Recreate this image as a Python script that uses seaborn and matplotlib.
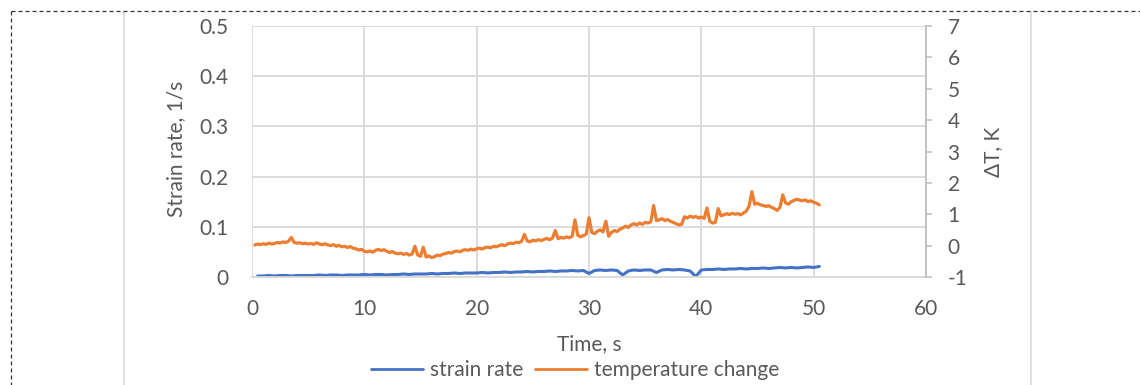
import numpy as np
import pandas as pd
import matplotlib
matplotlib.use("Agg")
import matplotlib.pyplot as plt
from matplotlib.lines import Line2D
import seaborn as sns

# ---------------- data ----------------
x_ticks = [0, 10, 20, 30, 40, 50, 60]
left_ticks = [0, 0.1, 0.2, 0.3, 0.4, 0.5]
left_tick_labels = ["0", "0.1", "0.2", "0.3", "0.4", "0.5"]
right_ticks = [-1, 0, 1, 2, 3, 4, 5, 6, 7]
right_tick_labels = ["-1", "0", "1", "2", "3", "4", "5", "6", "7"]

# temperature change, sampled every 0.25 s from 0.25 s to 50.5 s
temp_step = 0.25
temp_change = [
    0.02, 0.05, 0.03, 0.06,
    0.04, 0.08, 0.05, 0.07,
    0.10, 0.08, 0.12, 0.10,
    0.14, 0.26, 0.10, 0.08,
    0.09, 0.06, 0.08, 0.05,
    0.07, 0.04, 0.09, 0.05,
    0.03, 0.06, 0.02, 0.00,
    0.03, -0.02, 0.01, -0.04,
    -0.02, -0.06, -0.03, -0.08,
    -0.10, -0.14, -0.12, -0.18,
    -0.20, -0.17, -0.21, -0.15,
    -0.12, -0.16, -0.13, -0.18,
    -0.22, -0.19, -0.24, -0.26,
    -0.24, -0.28, -0.25, -0.30,
    -0.27, -0.02, -0.30, -0.34,
    -0.05, -0.36, -0.33, -0.38,
    -0.35, -0.30, -0.32, -0.27,
    -0.25, -0.22, -0.24, -0.19,
    -0.17, -0.20, -0.15, -0.13,
    -0.15, -0.11, -0.14, -0.10,
    -0.08, -0.11, -0.06, -0.05,
    -0.07, -0.02, -0.04, 0.00,
    0.03, 0.00, 0.05, 0.08,
    0.06, 0.11, 0.09, 0.14,
    0.36, 0.15, 0.12, 0.17,
    0.15, 0.19, 0.16, 0.20,
    0.23, 0.19, 0.24, 0.48,
    0.22, 0.26, 0.24, 0.28,
    0.25, 0.30, 0.82, 0.33,
    0.28, 0.32, 0.36, 0.89,
    0.42, 0.38, 0.46, 0.50,
    0.44, 0.78, 0.30, 0.42,
    0.48, 0.45, 0.52, 0.56,
    0.62, 0.58, 0.66, 0.70,
    0.66, 0.72, 0.68, 0.74,
    0.72, 0.76, 1.28, 0.80,
    0.82, 0.86, 0.80, 0.83,
    0.78, 0.74, 0.70, 0.66,
    0.68, 0.92, 0.88, 0.94,
    0.90, 0.93, 0.88, 0.91,
    0.87, 1.20, 0.78, 0.72,
    0.74, 1.18, 0.95, 0.98,
    1.02, 0.99, 1.03, 1.00,
    1.02, 0.98, 1.04, 1.10,
    1.26, 1.72, 1.32, 1.35,
    1.30, 1.28, 1.25, 1.27,
    1.22, 1.18, 1.12, 1.22,
    1.62, 1.36, 1.32, 1.40,
    1.44, 1.48, 1.45, 1.43,
    1.46, 1.40, 1.43, 1.38,
    1.35, 1.30,
]

# strain rate, sampled every 0.5 s from 0.5 s to 50.5 s
strain_step = 0.5
strain_rate = [
    0.002, 0.002, 0.003, 0.002, 0.003, 0.003, 0.002, 0.003, 0.003, 0.003,
    0.003, 0.004, 0.003, 0.004, 0.004, 0.003, 0.004, 0.004, 0.004, 0.005,
    0.004, 0.005, 0.005, 0.004, 0.005, 0.005, 0.006, 0.005, 0.006, 0.006,
    0.006, 0.007, 0.006, 0.007, 0.007, 0.008, 0.007, 0.008, 0.008, 0.008,
    0.009, 0.008, 0.009, 0.009, 0.010, 0.009, 0.010, 0.010, 0.011, 0.010,
    0.011, 0.011, 0.012, 0.011, 0.012, 0.012, 0.013, 0.012, 0.013, 0.007,
    0.013, 0.014, 0.013, 0.014, 0.013, 0.004, 0.012, 0.014, 0.013, 0.014,
    0.014, 0.009, 0.014, 0.015, 0.014, 0.015, 0.014, 0.012, 0.001, 0.014,
    0.015, 0.015, 0.016, 0.015, 0.016, 0.016, 0.017, 0.016, 0.017, 0.017,
    0.018, 0.017, 0.018, 0.019, 0.018, 0.019, 0.018, 0.019, 0.020, 0.019,
    0.021,
]

temp_time = [temp_step * (i + 1) for i in range(len(temp_change))]
strain_time = [strain_step * (i + 1) for i in range(len(strain_rate))]

df_temp = pd.DataFrame({"time": temp_time, "dT": temp_change})
df_strain = pd.DataFrame({"time": strain_time, "rate": strain_rate})

# ---------------- style ----------------
sns.set_theme(style="white")
plt.rcParams["font.family"] = ["Lato", "DejaVu Sans"]

TEXT = "#595959"
GRID = "#d9d9d9"
BLUE = "#4472C4"
ORANGE = "#ED7D31"
FS = 15

W, H = 1140, 385
fig = plt.figure(figsize=(W / 100, H / 100), dpi=100)
L, R, T, B = 252, 926, 26, 277
ax = fig.add_axes([L / W, 1 - B / H, (R - L) / W, (B - T) / H])
ax2 = ax.twinx()

sns.lineplot(data=df_strain, x="time", y="rate", ax=ax, color=BLUE,
             linewidth=2.2, label="strain rate", legend=False)
sns.lineplot(data=df_temp, x="time", y="dT", ax=ax2, color=ORANGE,
             linewidth=2.3, label="temperature change", legend=False)

ax.set_xlim(0, 60)
ax.set_ylim(0, 0.5)
ax2.set_ylim(-1, 7)
ax.set_xticks(x_ticks)
ax.set_xticklabels([str(v) for v in x_ticks])
ax.set_yticks(left_ticks)
ax.set_yticklabels(left_tick_labels)
ax2.set_yticks(right_ticks)
ax2.set_yticklabels(right_tick_labels)

ax.grid(True, color=GRID, linewidth=1.3)
ax.set_axisbelow(True)
ax2.grid(False)

for a in (ax, ax2):
    for s in a.spines.values():
        s.set_visible(False)
ax.spines["bottom"].set_visible(True)
ax.spines["bottom"].set_color(GRID)
ax.spines["bottom"].set_linewidth(1.3)
ax2.spines["right"].set_visible(True)
ax2.spines["right"].set_color("#bfbfbf")
ax2.spines["right"].set_linewidth(1.3)

ax.tick_params(axis="x", length=0, pad=16, labelsize=FS, labelcolor=TEXT)
ax.tick_params(axis="y", length=0, pad=17, labelsize=FS, labelcolor=TEXT)
ax2.tick_params(axis="y", length=4.5, width=1.1, color="#bfbfbf", direction="out",
                pad=11, labelsize=FS, labelcolor=TEXT)

ax.set_xlabel("Time, s", fontsize=FS, color=TEXT)
ax.xaxis.label.set_va("center")
ax.xaxis.set_label_coords(0.5, -(344 - B) / (B - T))

ax.set_ylabel("Strain rate, 1/s", fontsize=FS, color=TEXT)
ax.yaxis.label.set_va("center")
ax.yaxis.label.set_ha("center")
ax.yaxis.set_label_coords((176 - L) / (R - L), (B - 149) / (B - T))

ax2.set_ylabel("ΔT, K", fontsize=FS, color=TEXT)
ax2.yaxis.label.set_va("center")
ax2.yaxis.label.set_ha("center")
ax2.yaxis.set_label_coords((993 - L) / (R - L), (B - 152) / (B - T))

handles = [Line2D([], [], color=BLUE, linewidth=2.0),
           Line2D([], [], color=ORANGE, linewidth=2.0)]
fig.legend(handles, ["strain rate", "temperature change"], loc="center",
           bbox_to_anchor=(575 / W, 1 - 370 / H), ncol=2, frameon=False,
           fontsize=FS, labelcolor=TEXT, handlelength=2.5, handletextpad=0.3,
           columnspacing=0.6, borderpad=0, borderaxespad=0)

# chart-area decorations
def px(xp, yp):
    return xp / W, 1 - yp / H

for xv in (124, 1031):
    x0, y0 = px(xv, 12)
    x1, y1 = px(xv, H)
    fig.add_artist(Line2D([x0, x1], [y0, y1], color=GRID, linewidth=1.2,
                          transform=fig.transFigure))

dash = (0, (3.2, 2.4))
x0, y0 = px(11, 11)
fig.add_artist(Line2D([x0, 1.0], [y0, y0], color="#333333", linewidth=0.9,
                      linestyle=dash, transform=fig.transFigure))
fig.add_artist(Line2D([x0, x0], [y0, 0.0], color="#333333", linewidth=0.9,
                      linestyle=dash, transform=fig.transFigure))

fig.savefig("out.png", dpi=100, facecolor="white")
